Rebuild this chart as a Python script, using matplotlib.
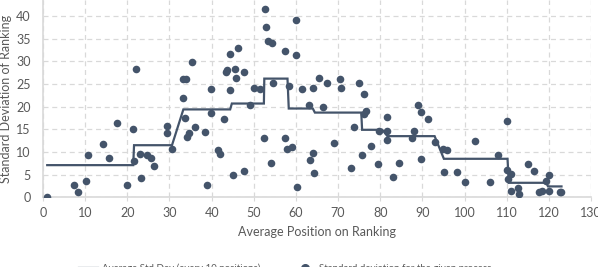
import matplotlib
matplotlib.use("Agg")
import matplotlib.pyplot as plt
from matplotlib.lines import Line2D

# Scatter: standard deviation for the given process
pos_x = [1, 7.4, 8.3, 10.3, 10.6, 14.3, 15.7, 17.6, 19.9, 21.3,
         21.7, 22, 23, 23.3, 24.6, 25.6, 26.3, 29.3, 29.3, 30.6,
         33.1, 33.3, 33.7, 33.9, 34.2, 34.6, 35.3, 36.1, 38.4, 39,
         39.9, 39.9, 41.6, 42, 43, 43.3, 43.6, 44.3, 44.4, 45, 45.6, 45.7, 46.3,
         47.6, 47.7, 49, 50, 51.4,
         52.4, 52.7, 53, 53.3, 54.1, 54.4, 54.6, 57.3, 57.3, 58, 58.4, 59.1,
         60, 60, 60.3, 61.4, 63, 63.3, 64, 64, 64.3, 65.4, 66.4, 67.4, 69,
         70.4, 70.7, 73, 73.7, 75, 75.7, 76.1, 76.2, 76.6, 77.7, 79.4, 79.7,
         81.6, 81.6, 81.7, 83.1, 84.4, 87.5, 88, 89, 89.7, 89.7, 91.4, 93,
         94.9, 95.8, 95.1, 98.1, 100, 102.5, 106, 108, 110, 110, 111.1, 110.3,
         111.1, 112.7, 113, 115.1, 116.4, 117.7, 118.3, 119.3, 120.1, 120.1,
         122.6, 123]
std_y = [0, 2.7, 1.1, 3.5, 9.3, 11.7, 8.6, 16.5, 2.8, 15.1,
         8.1, 28.3, 9.6, 4.3, 9.4, 8.6, 6.8, 15.7, 14.3, 10.7,
         26.2, 22, 17.5, 26.2, 13.3, 14.1, 29.9, 15.5, 14.4, 2.8,
         23.8, 18.6, 10.5, 9.5, 17.3, 27.6, 28.0, 23.7, 31.7, 5, 28.3, 26.3, 33,
         27.7, 5.7, 20.3, 24.1, 23.8,
         13, 41.6, 37.7, 34.4, 7.6, 34, 25.2, 32.3, 13.2, 10.6, 24.5, 11.2,
         39.1, 31.5, 2.3, 23.8, 20.4, 8.2, 9.8, 24.1, 5.4, 26.4, 20, 25.2, 12,
         26.1, 24.1, 6.5, 15.6, 25.2, 9.3, 22.7, 18.3, 19.0, 11.3, 7.3, 14.7,
         17.8, 14.7, 12.6, 4.5, 7.5, 13.2, 14.7, 20.4, 18.8, 8.4, 17.3, 12.3,
         10.6, 10.5, 5.6, 5.6, 3.4, 12.4, 3.4, 9.3, 16.9, 6.1, 5.1, 4,
         1.3, 2.1, 0.8, 7.3, 5.8, 1.2, 1.5, 3.6, 5, 1.5,
         1.2, 1.2]

# Average Std Dev (every 10 positions): group start/end and level
grp_start = [1, 21.6, 33.3, 44.8, 52.5, 58.3, 64.5, 75.7, 81.7, 95.1, 110.5, 119.8]
grp_end = [21.4, 30.6, 44.4, 52.4, 58.0, 64.0, 75.5, 80.5, 92.9, 110.2, 119.4, 123]
grp_avg = [7.1, 11.5, 19.4, 20.7, 26.2, 19.6, 18.7, 14.9, 13.5, 8.5, 3.2, 2.4]

x_ticks = list(range(0, 131, 10))
y_ticks = list(range(0, 41, 5))

color = "#44546A"
grey_txt = "#595959"
grid_c = "#D9D9D9"
fs = 9

plt.rcParams['font.family'] = ['Lato', 'DejaVu Sans']

fig = plt.figure(figsize=(5.98, 2.67), dpi=100)
ax = fig.add_axes([43 / 598, (267 - 197.3) / 267, (591 - 43) / 598, 197.3 / 267])

line_x, line_y = [], []
for s, e, a in zip(grp_start, grp_end, grp_avg):
    line_x += [s, e]
    line_y += [a, a]

ax.plot(line_x, line_y, color=color, lw=1.6, zorder=3, solid_joinstyle='miter')
ax.scatter(pos_x, std_y, s=30, color=color, zorder=4, linewidths=0)

ax.set_xlim(0, 130)
ax.set_ylim(0, 197.3 / 4.53)
ax.set_xticks(x_ticks)
ax.set_yticks(y_ticks)
ax.grid(True, color=grid_c, ls=(0, (4, 3)), lw=0.9)
ax.set_axisbelow(True)
for sp in ['top', 'right']:
    ax.spines[sp].set_visible(False)
for sp in ['left', 'bottom']:
    ax.spines[sp].set_color(grid_c)
    ax.spines[sp].set_linewidth(1.2)
ax.tick_params(axis='both', colors=grey_txt, labelsize=fs)
ax.tick_params(axis='y', length=0, pad=9)
ax.tick_params(axis='x', length=3, color=grid_c, pad=4)
ax.set_xlabel("Average Position on Ranking", color=grey_txt, fontsize=fs, labelpad=5)
ax.set_ylabel("Standard Deviation of Ranking", color=grey_txt, fontsize=fs, labelpad=3)

handles = [Line2D([], [], color=color, lw=1.6),
           Line2D([], [], color=color, marker='o', ls='none', markersize=5.5)]
labels = ["Average Std Dev (every 10 positions)", "Standard deviation for the given process"]
fig.legend(handles, labels, loc='center left', bbox_to_anchor=(0.1167, -0.005), ncol=2,
           frameon=False, fontsize=7, labelcolor=grey_txt, columnspacing=3.6,
           handlelength=2.0, handletextpad=0.4)

fig.savefig("out.png", dpi=100)
